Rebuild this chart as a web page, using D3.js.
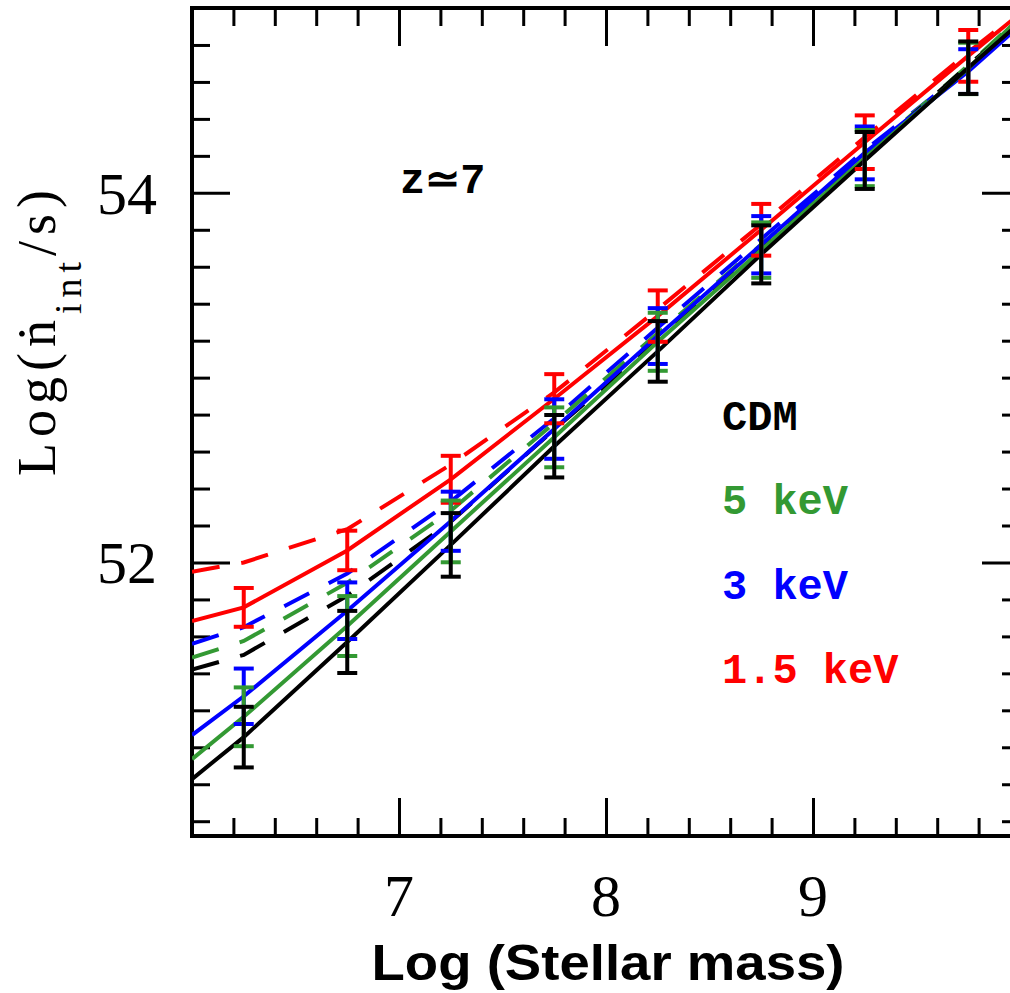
<!DOCTYPE html>
<html>
<head>
<meta charset="utf-8">
<script src="https://cdnjs.cloudflare.com/ajax/libs/d3/7.8.5/d3.min.js"></script>
<style>
body { margin: 0; background: #fff; }
</style>
</head>
<body>
<div id="content"></div>
<script>
// bin centres of the error bars, and x of the model curves (plot edges included)
var massBins = [6.25, 6.75, 7.25, 7.75, 8.25, 8.75, 9.25, 9.75];
var lineX = [6.0, 6.25, 6.75, 7.25, 7.75, 8.25, 8.75, 9.25, 9.75, 10.0];

var cdmMid = [51.055, 51.57, 52.095, 52.629, 53.142, 53.667, 54.175, 54.677];
var cdmErr = [0.164, 0.168, 0.172, 0.169, 0.164, 0.157, 0.154, 0.142];
var cdmSolid = [50.828, 51.055, 51.57, 52.095, 52.629, 53.142, 53.667, 54.175, 54.677, 54.92];
var cdmDashed = [51.42, 51.50, 51.82, 52.22, 52.72, 53.20, 53.70, 54.19, 54.69, 54.93];

var kev5Mid = [51.165, 51.656, 52.168, 52.677, 53.194, 53.69, 54.188, 54.673];
var kev5Err = [0.159, 0.162, 0.167, 0.162, 0.157, 0.15, 0.152, 0.139];
var kev5Solid = [50.936, 51.165, 51.656, 52.168, 52.677, 53.194, 53.69, 54.188, 54.673, 54.95];
var kev5Dashed = [51.485, 51.575, 51.89, 52.28, 52.755, 53.24, 53.72, 54.20, 54.69, 54.95];

var kev3Mid = [51.276, 51.739, 52.223, 52.722, 53.225, 53.719, 54.216, 54.656];
var kev3Err = [0.150, 0.153, 0.160, 0.161, 0.151, 0.155, 0.143, 0.121];
var kev3Solid = [51.066, 51.276, 51.739, 52.223, 52.722, 53.225, 53.719, 54.216, 54.656, 54.906];
var kev3Dashed = [51.56, 51.65, 51.94, 52.33, 52.78, 53.27, 53.75, 54.23, 54.67, 54.91];

var kev15Mid = [51.757, 52.065, 52.45, 52.886, 53.333, 53.80, 54.274, 54.741];
var kev15Err = [0.105, 0.107, 0.127, 0.133, 0.139, 0.14, 0.145, 0.14];
var kev15Solid = [51.683, 51.757, 52.065, 52.45, 52.886, 53.333, 53.80, 54.274, 54.741, 54.97];
var kev15Dashed = [51.95, 52.00, 52.18, 52.53, 52.92, 53.37, 53.83, 54.30, 54.76, 54.98];

var modelNames = ["CDM", "5 keV", "3 keV", "1.5 keV"];
var modelColors = ["#000000", "#339933", "#0000ff", "#ff0000"];

var xMajor = [7, 8, 9], xTickLabels = ["7", "8", "9"];
var yMajor = [52, 54], yTickLabels = ["52", "54"];

var W = 1010, H = 993;
var plot = {l: 192, t: 8, r: 1020, b: 836};

var models = [
  {name: modelNames[0], color: modelColors[0], mid: cdmMid, err: cdmErr, solid: cdmSolid, dashed: cdmDashed},
  {name: modelNames[1], color: modelColors[1], mid: kev5Mid, err: kev5Err, solid: kev5Solid, dashed: kev5Dashed},
  {name: modelNames[2], color: modelColors[2], mid: kev3Mid, err: kev3Err, solid: kev3Solid, dashed: kev3Dashed},
  {name: modelNames[3], color: modelColors[3], mid: kev15Mid, err: kev15Err, solid: kev15Solid, dashed: kev15Dashed}
];
// draw red first, black last
var drawOrder = models.slice().reverse();

var x = d3.scaleLinear().domain([6, 10]).range([plot.l, plot.r]);
var y = d3.scaleLinear().domain([50.52, 55]).range([plot.b, plot.t]);

var xMinor = d3.range(6.2, 10, 0.2).filter(function(d) { return Math.abs(d - Math.round(d)) > 0.01; });
var yMinor = d3.range(50.6, 55, 0.2).filter(function(d) { return Math.abs(d - 52) > 0.01 && Math.abs(d - 54) > 0.01; });

var svg = d3.select("#content")
            .append("svg")
            .attr("width", W)
            .attr("height", H);

svg.append("defs").append("clipPath").attr("id", "clip")
   .append("rect")
   .attr("x", plot.l).attr("y", plot.t)
   .attr("width", plot.r - plot.l).attr("height", plot.b - plot.t);

function drawTicks(axis, tx, ty, ticks, size) {
  var g = svg.append("g")
             .attr("transform", "translate(" + tx + "," + ty + ")")
             .call(axis.tickValues(ticks).tickSize(size).tickSizeOuter(0).tickFormat(""));
  g.select(".domain").remove();
  g.selectAll("line").attr("stroke", "#000").attr("stroke-width", 3);
}

drawTicks(d3.axisBottom(x), 0, plot.b, xMinor, -18);
drawTicks(d3.axisBottom(x), 0, plot.b, xMajor, -38);
drawTicks(d3.axisTop(x), 0, plot.t, xMinor, -18);
drawTicks(d3.axisTop(x), 0, plot.t, xMajor, -38);
drawTicks(d3.axisLeft(y), plot.l, 0, yMinor, -18);
drawTicks(d3.axisLeft(y), plot.l, 0, yMajor, -38);
drawTicks(d3.axisRight(y), plot.r, 0, yMinor, -18);
drawTicks(d3.axisRight(y), plot.r, 0, yMajor, -38);

svg.append("rect")
   .attr("x", plot.l).attr("y", plot.t)
   .attr("width", plot.r - plot.l).attr("height", plot.b - plot.t)
   .attr("fill", "none").attr("stroke", "#000").attr("stroke-width", 4);

// tick labels
svg.selectAll(".xlab")
   .data(xMajor)
   .enter()
   .append("text")
   .attr("class", "xlab")
   .attr("x", function(d) { return x(d); })
   .attr("y", 916)
   .attr("text-anchor", "middle")
   .attr("font-family", "Liberation Serif")
   .attr("font-size", 60)
   .text(function(d, i) { return xTickLabels[i]; });

svg.selectAll(".ylab")
   .data(yMajor)
   .enter()
   .append("text")
   .attr("class", "ylab")
   .attr("x", 157)
   .attr("y", function(d) { return y(d) + 21; })
   .attr("text-anchor", "end")
   .attr("font-family", "Liberation Serif")
   .attr("font-size", 60)
   .text(function(d, i) { return yTickLabels[i]; });

// curves
var curves = svg.append("g").attr("clip-path", "url(#clip)");
var line = d3.line()
             .x(function(d, i) { return x(lineX[i]); })
             .y(function(d) { return y(d); });

drawOrder.forEach(function(m) {
  curves.append("path")
        .attr("d", line(m.dashed))
        .attr("fill", "none")
        .attr("stroke", m.color)
        .attr("stroke-width", 4)
        .attr("stroke-dasharray", "28,22");
});
drawOrder.forEach(function(m) {
  curves.append("path")
        .attr("d", line(m.solid))
        .attr("fill", "none")
        .attr("stroke", m.color)
        .attr("stroke-width", 4);
});

// error bars
drawOrder.forEach(function(m) {
  var g = svg.append("g").attr("stroke", m.color).attr("stroke-width", 4);
  var bars = g.selectAll("g")
              .data(massBins)
              .enter()
              .append("g");
  bars.append("line")
      .attr("x1", function(d) { return x(d); })
      .attr("x2", function(d) { return x(d); })
      .attr("y1", function(d, i) { return y(m.mid[i] + m.err[i]); })
      .attr("y2", function(d, i) { return y(m.mid[i] - m.err[i]); });
  bars.append("line")
      .attr("x1", function(d) { return x(d) - 10; })
      .attr("x2", function(d) { return x(d) + 10; })
      .attr("y1", function(d, i) { return y(m.mid[i] + m.err[i]); })
      .attr("y2", function(d, i) { return y(m.mid[i] + m.err[i]); });
  bars.append("line")
      .attr("x1", function(d) { return x(d) - 10; })
      .attr("x2", function(d) { return x(d) + 10; })
      .attr("y1", function(d, i) { return y(m.mid[i] - m.err[i]); })
      .attr("y2", function(d, i) { return y(m.mid[i] - m.err[i]); });
});

// legend
svg.selectAll(".legend")
   .data(models)
   .enter()
   .append("text")
   .attr("class", "legend")
   .attr("x", 722)
   .attr("y", function(d, i) { return 430 + i * 84.3; })
   .attr("fill", function(d) { return d.color; })
   .attr("font-family", "Liberation Mono")
   .attr("font-weight", "bold")
   .attr("font-size", 42)
   .text(function(d) { return d.name; });

svg.append("text")
   .attr("x", 400).attr("y", 193)
   .attr("font-family", "Liberation Mono")
   .attr("font-weight", "bold")
   .attr("font-size", 42)
   .text("z\u22437");

// axis titles
svg.append("text")
   .attr("x", 608).attr("y", 980)
   .attr("text-anchor", "middle")
   .attr("font-family", "Liberation Sans")
   .attr("font-weight", "bold")
   .attr("font-size", 50)
   .attr("textLength", 473)
   .attr("lengthAdjust", "spacingAndGlyphs")
   .text("Log (Stellar mass)");

var ytitle = svg.append("text")
                .attr("transform", "translate(55,330) rotate(-90)")
                .attr("text-anchor", "middle")
                .attr("font-family", "Liberation Serif")
                .attr("font-size", 54)
                .attr("letter-spacing", 6);
ytitle.append("tspan").text("Log(\u1E45");
ytitle.append("tspan").attr("font-size", 38).attr("dy", 26).text("int");
ytitle.append("tspan").attr("dy", -26).text("/s)");
</script>
</body>
</html>
